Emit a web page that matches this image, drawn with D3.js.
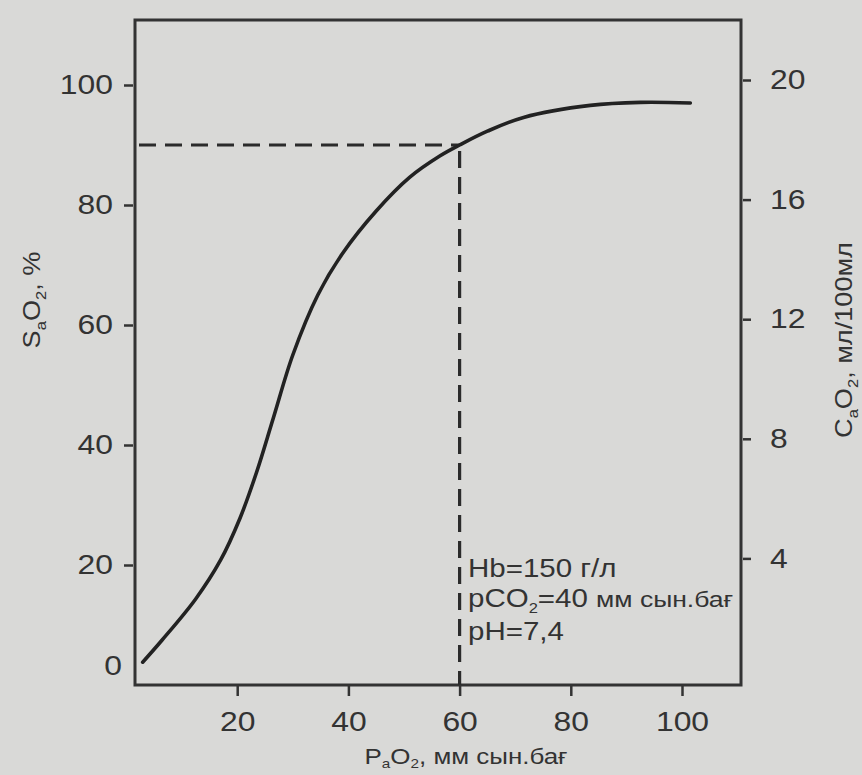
<!DOCTYPE html>
<html>
<head>
<meta charset="utf-8">
<script src="https://cdn.jsdelivr.net/npm/d3@7"></script>
<style>
  body { margin: 0; background: #d9d9d7; }
  svg { display: block; }
</style>
</head>
<body>
<svg id="chart" width="862" height="775"></svg>
<script>
// Oxyhaemoglobin dissociation curve: arterial pO2 (mmHg) vs saturation (%)
const po2 = [3, 6.5, 12.5, 17, 20.5, 23.5, 26.5, 30, 34.5, 39, 45, 51, 56.5, 60, 65, 71.5, 83.5, 92.5, 101.5];
const sat = [3.8, 7.5, 14.3, 20.8, 27.8, 35.5, 44.5, 55, 65, 72, 79, 84.6, 88.2, 90, 92.3, 94.6, 96.6, 97.1, 97];

const xTicks = [20, 40, 60, 80, 100];
const satTicks = [20, 40, 60, 80, 100];
const contentTicks = [4, 8, 12, 16, 20];

// reference point marked with dashed guides
const markPo2 = 60;
const markSat = 90;

const conditionLines = [
  [{ t: "Hb=150 г/л" }],
  [{ t: "pCO" }, { t: "2", sub: true }, { t: "=40 " }, { t: "мм сын.бағ", small: true }],
  [{ t: "pH=7,4" }]
];

const ink = "#333";
const font = "'Liberation Sans', Arial, sans-serif";
const STRETCH = 1.18;

const svg = d3.select("#chart");
const frame = { left: 135, right: 741, top: 20, bottom: 685 };

const x = d3.scaleLinear().domain([0, 100]).range([126, 682]);
const y = d3.scaleLinear().domain([0, 100]).range([685, 85]);
const yc = d3.scaleLinear().domain([0, 20]).range([678, 80]);

// widen glyphs horizontally while keeping anchor positions
function widen(sel) {
  sel.each(function () {
    const t = d3.select(this);
    const xv = +t.attr("x") || 0;
    t.attr("x", xv / STRETCH).attr("transform", `scale(${STRETCH},1)`);
  });
}

// text runs with subscripts and smaller runs
function richText(g, parts, size, subSize, subShift) {
  let shift = 0;
  parts.forEach(p => {
    const ts = g.append("tspan").text(p.t);
    if (p.sub) {
      ts.attr("font-size", subSize).attr("dy", subShift);
      shift = subShift;
    } else {
      if (shift) { ts.attr("dy", -shift); shift = 0; }
      if (p.small) ts.attr("font-size", size * 0.9);
    }
  });
}

// frame
svg.append("rect")
  .attr("x", frame.left).attr("y", frame.top)
  .attr("width", frame.right - frame.left).attr("height", frame.bottom - frame.top)
  .attr("fill", "none").attr("stroke", ink).attr("stroke-width", 3);

// left axis
const gl = svg.append("g")
  .attr("transform", `translate(${frame.left - 2},0)`)
  .call(d3.axisLeft(y).tickValues(satTicks).tickSize(9).tickPadding(11));
// right axis
const gr = svg.append("g")
  .attr("transform", `translate(${frame.right + 2},0)`)
  .call(d3.axisRight(yc).tickValues(contentTicks).tickSize(8).tickPadding(19));
// bottom axis
const gb = svg.append("g")
  .attr("transform", `translate(0,${frame.bottom + 1})`)
  .call(d3.axisBottom(x).tickValues(xTicks).tickSize(10).tickPadding(16));

[gl, gr, gb].forEach(g => {
  g.select(".domain").remove();
  g.selectAll(".tick line").attr("stroke", ink).attr("stroke-width", 2.5);
  g.selectAll(".tick text")
    .attr("fill", ink).attr("font-family", font).attr("font-size", 27);
  widen(g.selectAll(".tick text"));
});

// origin label
const zero = svg.append("text")
  .attr("x", 113).attr("y", 675)
  .attr("text-anchor", "middle")
  .attr("fill", ink).attr("font-family", font).attr("font-size", 27)
  .text("0");
widen(zero);

// dashed guides to the marked point
const guide = svg.append("g")
  .attr("stroke", "#2b2b2b").attr("stroke-width", 3.2)
  .attr("stroke-dasharray", "17,9").attr("fill", "none");
guide.append("line")
  .attr("x1", frame.left + 4).attr("x2", x(markPo2))
  .attr("y1", y(markSat)).attr("y2", y(markSat));
guide.append("line")
  .attr("x1", x(markPo2)).attr("x2", x(markPo2))
  .attr("y1", y(markSat) + 6).attr("y2", frame.bottom);

// dissociation curve
const pts = po2.map((p, i) => [p, sat[i]]);
svg.append("path")
  .datum(pts)
  .attr("fill", "none").attr("stroke", "#222").attr("stroke-width", 3.6)
  .attr("stroke-linecap", "round")
  .attr("d", d3.line().x(d => x(d[0])).y(d => y(d[1])).curve(d3.curveCatmullRom.alpha(0.5)));

// conditions block
const condY = [577, 607, 640];
conditionLines.forEach((parts, i) => {
  const t = svg.append("text")
    .attr("x", 468).attr("y", condY[i])
    .attr("fill", ink).attr("font-family", font).attr("font-size", 25);
  richText(t, parts, 25, 14, 6);
  widen(t);
});

// axis titles
const bt = svg.append("text")
  .attr("x", 466).attr("y", 764)
  .attr("text-anchor", "middle")
  .attr("fill", ink).attr("font-family", font).attr("font-size", 22);
richText(bt, [{ t: "P" }, { t: "a", sub: true }, { t: "O" }, { t: "2", sub: true }, { t: ", мм сын.бағ" }], 22, 13, 4);
widen(bt);

const lt = svg.append("g").attr("transform", "translate(40,300) rotate(-90)")
  .append("text")
  .attr("x", 0).attr("y", 0).attr("text-anchor", "middle")
  .attr("fill", ink).attr("font-family", font).attr("font-size", 23);
richText(lt, [{ t: "S" }, { t: "a", sub: true }, { t: "O" }, { t: "2", sub: true }, { t: ", %" }], 23, 14, 6);
widen(lt);

const rt = svg.append("g").attr("transform", "translate(852,340) rotate(-90)")
  .append("text")
  .attr("x", 0).attr("y", 0).attr("text-anchor", "middle")
  .attr("fill", ink).attr("font-family", font).attr("font-size", 23);
richText(rt, [{ t: "C" }, { t: "a", sub: true }, { t: "O" }, { t: "2", sub: true }, { t: ", мл/100мл" }], 23, 14, 6);
widen(rt);
</script>
</body>
</html>
